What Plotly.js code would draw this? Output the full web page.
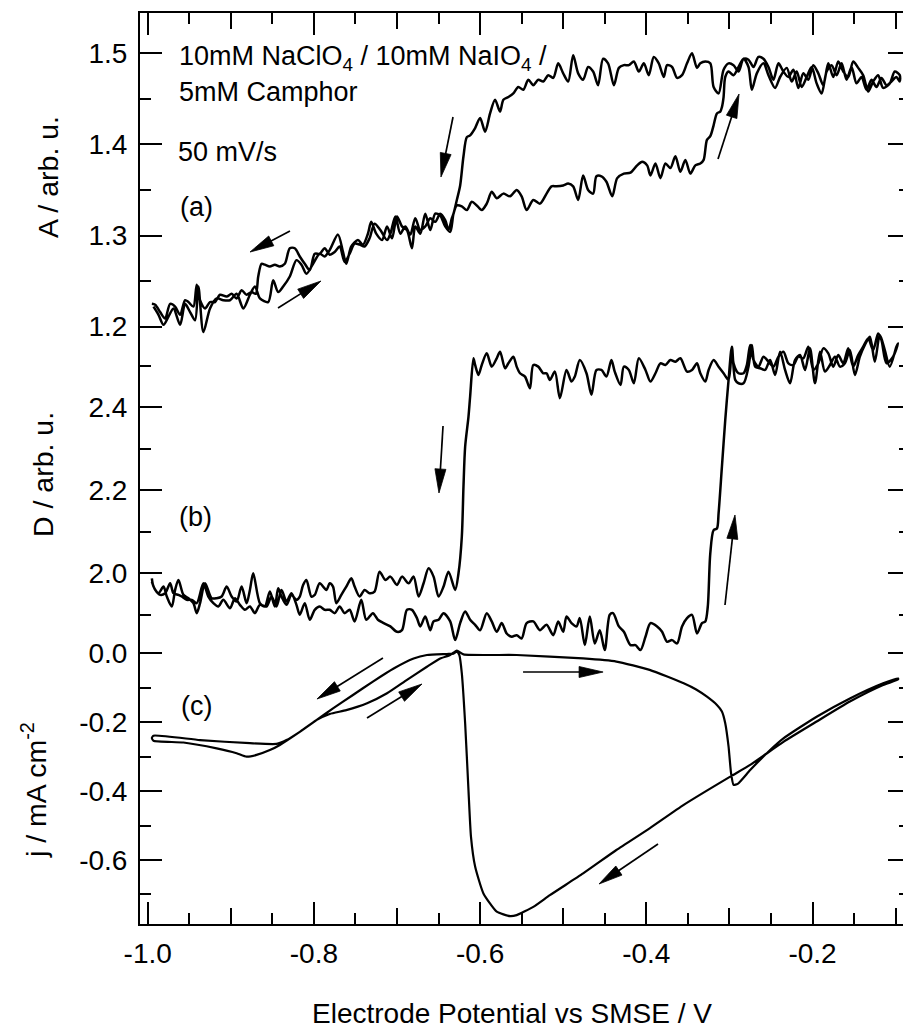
<!DOCTYPE html>
<html>
<head>
<meta charset="utf-8">
<script src="https://cdn.plot.ly/plotly-3.0.1.min.js"></script>
<style>
html, body { margin: 0; padding: 0; overflow: hidden; background: #fff; }
</style>
</head>
<body>
<div id="chart" style="width:920px;height:1034px"></div>
<script>
// (a) absorbance A, forward scan (negative -> positive)
const potA_fwd = [-0.993,-0.987,-0.981,-0.975,-0.969,-0.961,-0.955,-0.949,-0.943,-0.939,-0.933,-0.925,-0.917,-0.909,-0.901,-0.893,-0.885,-0.877,-0.871,-0.865,-0.855,-0.849,-0.843,-0.837,-0.829,-0.821,-0.815,-0.809,-0.801,-0.793,-0.787,-0.781,-0.771,-0.765,-0.761,-0.755,-0.747,-0.741,-0.735,-0.731,-0.725,-0.718,-0.712,-0.706,-0.700,-0.694,-0.688,-0.682,-0.678,-0.672,-0.666,-0.660,-0.654,-0.648,-0.642,-0.636,-0.632,-0.628,-0.622,-0.616,-0.610,-0.604,-0.598,-0.592,-0.586,-0.580,-0.572,-0.564,-0.556,-0.550,-0.544,-0.536,-0.528,-0.520,
  -0.514,-0.508,-0.500,-0.494,-0.488,-0.482,-0.476,-0.470,-0.464,-0.460,-0.454,-0.448,-0.441,-0.435,-0.427,-0.419,-0.411,-0.405,-0.399,-0.395,-0.389,-0.383,-0.377,-0.371,-0.365,-0.359,-0.353,-0.347,-0.341,-0.335,-0.331,-0.327,-0.323,-0.319,-0.315,-0.311,-0.309,-0.307,-0.305,-0.301,-0.295,
  -0.289,-0.283,-0.277,-0.273,-0.267,-0.259,-0.253,-0.245,-0.239,-0.231,-0.225,-0.219,-0.213,-0.207,-0.201,-0.195,-0.189,-0.183,-0.177,-0.171,-0.165,-0.159,-0.153,-0.147,-0.141,-0.135,-0.129,-0.123,-0.117,-0.111,-0.105,-0.099,-0.095];
const absA_fwd = [1.222,1.213,1.202,1.211,1.220,1.202,1.225,1.216,1.207,1.244,1.194,1.220,1.231,1.229,1.229,1.236,1.220,1.235,1.244,1.231,1.227,1.251,1.238,1.244,1.255,1.273,1.268,1.258,1.269,1.280,1.277,1.284,1.301,1.282,1.269,1.288,1.295,1.290,1.302,1.315,1.302,1.295,1.310,1.297,1.321,1.310,1.306,1.286,1.310,1.302,1.324,1.306,1.324,1.322,1.310,1.304,1.324,1.333,1.332,1.328,1.337,1.333,1.328,1.335,1.348,1.341,1.346,1.343,1.350,1.343,1.328,1.339,1.335,1.346,
  1.354,1.354,1.355,1.357,1.354,1.339,1.366,1.350,1.346,1.365,1.365,1.359,1.343,1.363,1.368,1.369,1.377,1.381,1.377,1.366,1.379,1.363,1.379,1.374,1.387,1.370,1.383,1.368,1.377,1.379,1.383,1.405,1.409,1.421,1.434,1.436,1.441,1.452,1.474,1.480,1.476,
  1.485,1.494,1.485,1.460,1.478,1.489,1.476,1.462,1.474,1.484,1.469,1.480,1.463,1.474,1.485,1.467,1.456,1.480,1.487,1.476,1.489,1.471,1.485,1.467,1.474,1.460,1.471,1.463,1.473,1.465,1.469,1.474,1.469];

// (a) absorbance A, reverse scan (positive -> negative)
const potA_rev = [-0.095,-0.101,-0.107,-0.115,-0.121,-0.127,-0.133,-0.139,-0.145,-0.151,-0.157,-0.163,-0.169,-0.175,-0.181,-0.187,-0.193,-0.199,-0.205,-0.211,-0.217,-0.223,-0.229,-0.235,-0.241,-0.247,-0.253,-0.259,-0.265,-0.271,-0.277,-0.283,-0.289,-0.295,-0.301,-0.307,-0.313,-0.319,-0.323,-0.329,-0.335,-0.339,-0.345,-0.351,-0.357,-0.363,-0.369,-0.375,-0.379,-0.385,-0.391,-0.397,-0.403,-0.409,-0.415,-0.421,-0.427,-0.433,-0.439,-0.446,-0.452,-0.458,-0.464,-0.470,-0.476,-0.482,-0.488,-0.494,-0.500,-0.506,-0.512,-0.518,-0.524,-0.530,-0.536,-0.542,-0.548,-0.554,-0.560,-0.566,-0.572,-0.576,-0.582,-0.588,-0.594,-0.600,-0.606,-0.612,-0.616,-0.620,-0.624,-0.628,-0.632,
  -0.634,-0.638,-0.642,-0.648,-0.654,-0.660,-0.666,-0.672,-0.678,-0.684,-0.690,-0.696,-0.702,-0.708,-0.712,-0.720,-0.727,-0.733,-0.739,-0.745,-0.751,-0.757,-0.763,-0.769,-0.775,-0.781,-0.787,-0.793,-0.799,-0.805,-0.811,-0.817,-0.823,-0.829,-0.835,-0.841,-0.847,-0.853,-0.859,-0.863,-0.867,-0.870,-0.875,-0.881,-0.887,-0.893,-0.899,-0.905,-0.913,-0.919,-0.925,-0.931,-0.937,-0.941,-0.945,-0.951,-0.955,-0.961,-0.967,-0.973,-0.979,-0.985,-0.991,-0.995];
const absA_rev = [1.476,1.480,1.467,1.462,1.476,1.469,1.458,1.476,1.484,1.491,1.474,1.480,1.491,1.474,1.489,1.465,1.478,1.487,1.471,1.478,1.462,1.482,1.474,1.480,1.489,1.471,1.485,1.494,1.496,1.485,1.493,1.494,1.480,1.487,1.489,1.482,1.456,1.463,1.489,1.491,1.489,1.484,1.500,1.489,1.476,1.473,1.485,1.487,1.474,1.489,1.496,1.476,1.489,1.480,1.491,1.487,1.487,1.484,1.465,1.489,1.494,1.465,1.480,1.485,1.471,1.478,1.498,1.469,1.478,1.489,1.473,1.476,1.469,1.471,1.465,1.471,1.460,1.463,1.456,1.452,1.449,1.436,1.449,1.434,1.414,1.429,1.418,1.410,1.408,1.387,1.355,1.339,1.324,
  1.319,1.306,1.317,1.324,1.315,1.319,1.310,1.306,1.319,1.301,1.310,1.302,1.321,1.302,1.295,1.306,1.313,1.297,1.288,1.290,1.291,1.280,1.271,1.288,1.282,1.279,1.286,1.280,1.280,1.262,1.269,1.277,1.286,1.286,1.269,1.266,1.268,1.266,1.268,1.269,1.255,1.236,1.238,1.235,1.240,1.231,1.236,1.233,1.235,1.227,1.227,1.220,1.229,1.246,1.222,1.227,1.229,1.213,1.222,1.225,1.209,1.216,1.224,1.225];

// (b) D signal, forward scan
const potD_fwd = [-0.995,-0.991,-0.985,-0.979,-0.973,-0.969,-0.963,-0.959,-0.953,-0.947,-0.941,-0.933,-0.927,-0.921,-0.915,-0.909,-0.901,-0.895,-0.889,-0.883,-0.877,-0.871,-0.865,-0.857,-0.851,-0.845,-0.839,-0.833,-0.827,-0.821,-0.817,-0.811,-0.805,-0.799,-0.793,-0.787,-0.781,-0.775,-0.769,-0.763,-0.757,-0.751,-0.743,-0.737,-0.729,-0.723,-0.716,-0.708,-0.700,-0.694,-0.688,-0.682,-0.676,-0.672,-0.666,-0.660,-0.656,-0.650,-0.644,-0.636,-0.630,-0.624,-0.618,-0.612,-0.606,-0.600,-0.592,-0.586,-0.580,-0.574,-0.568,-0.562,-0.556,-0.550,-0.544,-0.536,-0.528,-0.520,
  -0.512,-0.506,-0.500,-0.496,-0.490,-0.484,-0.480,-0.474,-0.468,-0.462,-0.456,-0.450,-0.444,-0.440,-0.433,-0.427,-0.419,-0.413,-0.407,-0.401,-0.395,-0.387,-0.381,-0.375,-0.369,-0.363,-0.357,-0.351,-0.345,-0.339,-0.333,-0.329,-0.326,-0.323,-0.319,-0.315,-0.313,-0.309,-0.305,-0.301,-0.297,-0.293,-0.289,-0.283,-0.277,-0.273,-0.269,-0.263,-0.257,-0.251,-0.245,-0.239,-0.233,-0.227,-0.221,-0.215,-0.209,-0.203,-0.197,-0.191,-0.185,-0.179,-0.173,-0.167,-0.161,-0.155,-0.149,-0.143,-0.137,-0.131,-0.125,-0.119,-0.113,-0.107,-0.099];
const sigD_fwd = [1.980,1.960,1.948,1.952,1.976,1.952,1.948,1.944,1.936,1.936,1.928,1.976,1.944,1.928,1.920,1.936,1.916,1.940,1.924,1.912,1.920,1.904,1.924,1.920,1.944,1.920,1.960,1.932,1.952,1.924,1.900,1.928,1.888,1.912,1.920,1.912,1.912,1.904,1.920,1.904,1.912,1.884,1.936,1.888,1.904,1.888,1.880,1.872,1.859,1.863,1.912,1.912,1.892,1.872,1.896,1.863,1.884,1.888,1.904,1.884,1.839,1.880,1.908,1.888,1.876,1.863,1.904,1.884,1.859,1.880,1.855,1.847,1.851,1.843,1.880,1.884,1.863,1.876,
  1.851,1.884,1.859,1.896,1.880,1.872,1.892,1.827,1.896,1.831,1.863,1.815,1.900,1.904,1.872,1.859,1.827,1.827,1.815,1.847,1.880,1.872,1.859,1.835,1.839,1.831,1.872,1.892,1.900,1.855,1.880,1.884,1.920,2.048,2.104,2.108,2.145,2.257,2.369,2.466,2.546,2.466,2.458,2.458,2.498,2.550,2.498,2.494,2.490,2.514,2.478,2.534,2.490,2.458,2.514,2.526,2.490,2.542,2.458,2.534,2.486,2.502,2.522,2.498,2.506,2.538,2.478,2.522,2.550,2.570,2.510,2.574,2.538,2.498,2.546];

// (b) D signal, reverse scan
const potD_rev = [-0.097,-0.103,-0.111,-0.117,-0.121,-0.127,-0.133,-0.139,-0.145,-0.151,-0.157,-0.163,-0.169,-0.175,-0.181,-0.187,-0.193,-0.199,-0.205,-0.211,-0.217,-0.223,-0.229,-0.235,-0.241,-0.247,-0.253,-0.259,-0.265,-0.271,-0.275,-0.279,-0.283,-0.289,-0.295,-0.297,-0.301,-0.307,-0.313,-0.319,-0.325,-0.329,-0.335,-0.339,-0.345,-0.351,-0.359,-0.365,-0.371,-0.377,-0.383,-0.389,-0.395,-0.401,-0.409,-0.415,-0.421,-0.427,-0.431,-0.438,-0.442,-0.448,-0.454,-0.460,-0.466,-0.472,-0.480,-0.486,-0.490,-0.496,-0.504,-0.510,-0.516,-0.520,-0.524,-0.530,-0.536,-0.540,-0.546,-0.552,-0.556,-0.560,-0.566,-0.570,-0.576,-0.580,-0.586,-0.592,-0.598,-0.602,-0.606,-0.608,-0.612,-0.614,-0.618,-0.620,-0.622,-0.626,-0.630,
  -0.638,-0.644,-0.650,-0.656,-0.662,-0.668,-0.674,-0.680,-0.686,-0.694,-0.700,-0.708,-0.714,-0.721,-0.727,-0.733,-0.739,-0.745,-0.751,-0.755,-0.761,-0.767,-0.773,-0.777,-0.781,-0.785,-0.793,-0.799,-0.803,-0.809,-0.813,-0.817,-0.821,-0.827,-0.833,-0.839,-0.843,-0.847,-0.853,-0.859,-0.865,-0.873,-0.877,-0.881,-0.887,-0.893,-0.899,-0.905,-0.911,-0.917,-0.923,-0.931,-0.937,-0.941,-0.945,-0.951,-0.957,-0.963,-0.967,-0.971,-0.977,-0.981,-0.987,-0.993,-0.995];
const sigD_rev = [2.554,2.522,2.506,2.562,2.578,2.538,2.566,2.546,2.526,2.498,2.542,2.506,2.526,2.498,2.530,2.542,2.506,2.490,2.546,2.518,2.522,2.502,2.506,2.534,2.522,2.498,2.510,2.522,2.498,2.514,2.550,2.502,2.482,2.482,2.506,2.546,2.466,2.482,2.498,2.514,2.490,2.462,2.482,2.506,2.490,2.486,2.518,2.510,2.514,2.502,2.506,2.482,2.462,2.490,2.518,2.458,2.490,2.498,2.454,2.486,2.514,2.474,2.490,2.490,2.430,2.482,2.514,2.474,2.462,2.490,2.422,2.486,2.466,2.482,2.482,2.498,2.502,2.446,2.474,2.482,2.498,2.522,2.506,2.494,2.534,2.518,2.498,2.530,2.502,2.478,2.502,2.518,2.426,2.377,2.305,2.209,2.088,2.000,1.960,
  2.004,1.968,1.944,1.992,2.012,1.976,1.944,1.992,1.976,1.992,1.972,1.992,1.984,2.004,1.956,1.952,1.960,1.944,1.968,1.988,1.968,1.948,1.928,1.968,1.976,1.960,1.976,1.948,1.944,1.984,1.972,1.944,1.936,1.948,1.924,1.944,1.964,1.920,1.956,1.920,1.928,2.000,1.960,1.928,1.968,1.932,1.944,1.968,1.944,1.940,1.940,1.976,1.928,1.904,1.928,1.940,1.948,1.984,1.960,1.920,1.944,1.968,1.952,1.968,1.988];

// (c) current density j / mA cm^-2, forward scan
const potJ_fwd = [-0.995,-0.993,-0.957,-0.917,-0.893,-0.881,-0.869,-0.853,-0.841,-0.817,-0.797,-0.781,-0.761,-0.736,-0.712,-0.688,-0.664,-0.648,-0.636,-0.628,-0.620,-0.556,-0.476,-0.436,-0.396,-0.355,-0.340,-0.327,-0.315,-0.309,-0.305,-0.301,-0.298,-0.295,-0.290,-0.275,-0.255,-0.235,-0.195,-0.155,-0.115,-0.097];
const curJ_fwd = [-0.246,-0.254,-0.259,-0.276,-0.290,-0.300,-0.295,-0.281,-0.266,-0.228,-0.194,-0.176,-0.165,-0.145,-0.116,-0.077,-0.039,-0.015,-0.005,0.008,-0.003,-0.005,-0.015,-0.024,-0.048,-0.087,-0.105,-0.126,-0.150,-0.169,-0.203,-0.271,-0.348,-0.382,-0.379,-0.339,-0.290,-0.247,-0.184,-0.131,-0.087,-0.073];

// (c) current density, reverse scan
const potJ_rev = [-0.097,-0.115,-0.155,-0.195,-0.235,-0.275,-0.299,-0.355,-0.396,-0.436,-0.476,-0.516,-0.536,-0.556,-0.564,-0.580,-0.596,-0.606,-0.611,-0.614,-0.618,-0.622,-0.625,-0.628,-0.632,-0.640,-0.664,-0.680,-0.704,-0.729,-0.753,-0.777,-0.797,-0.817,-0.833,-0.845,-0.877,-0.937,-0.993,-0.995];
const curJ_rev = [-0.076,-0.092,-0.140,-0.198,-0.257,-0.324,-0.358,-0.440,-0.508,-0.571,-0.639,-0.702,-0.736,-0.760,-0.763,-0.750,-0.697,-0.619,-0.532,-0.397,-0.203,-0.058,-0.005,0.005,-0.001,-0.002,-0.005,-0.015,-0.044,-0.082,-0.121,-0.160,-0.194,-0.228,-0.252,-0.263,-0.261,-0.252,-0.239,-0.246];

// scan-direction arrows: tail and head in data units, with the y axis each belongs to
const arrowTailX = [-0.6326,-0.8288,-0.8432,-0.3137,-0.6446,-0.3053,-0.7169,-0.7361,-0.5483,-0.3859];
const arrowTailY = [1.4301,1.3049,1.2204,1.3840,2.3549,1.9236,-0.0136,-0.1878,-0.0543,-0.5536];
const arrowHeadX = [-0.6471,-0.8769,-0.7915,-0.2884,-0.6495,-0.2933,-0.7963,-0.6699,-0.4520,-0.4569];
const arrowHeadY = [1.3642,1.2819,1.2501,1.4553,2.1935,2.1405,-0.1327,-0.0891,-0.0543,-0.6697];
const arrowAxis  = ['y3','y3','y3','y3','y2','y2','y','y','y','y'];

// axis ticks
const xMajor = [-1.0,-0.8,-0.6,-0.4,-0.2];
const xMajorText = ['-1.0','-0.8','-0.6','-0.4','-0.2'];
const xMid = [-0.9,-0.7,-0.5,-0.3,-0.1];
const xMinor = [-0.95,-0.85,-0.75,-0.65,-0.55,-0.45,-0.35,-0.25,-0.15];
const jTicks = [0.0,-0.2,-0.4,-0.6];
const jTickText = ['0.0','-0.2','-0.4','-0.6'];
const jMinor = [-0.1,-0.3,-0.5,-0.7];
const dTicks = [2.0,2.2,2.4];
const dTickText = ['2.0','2.2','2.4'];
const dMinor = [1.9,2.1,2.3,2.5];
const aTicks = [1.2,1.3,1.4,1.5];
const aTickText = ['1.2','1.3','1.4','1.5'];
const aMinor = [1.25,1.35,1.45];

// ---- layout geometry ----
const W = 920, H = 1034;
const M = {l: 140, r: 10, t: 13, b: 110};
const plotW = W - M.l - M.r, plotH = H - M.t - M.b;
const xRange = [-1.00927, -0.08267];
const ranges = {
  y:  [-0.78578, 1.85863],   // j
  y2: [1.15494, 3.35012],    // D
  y3: [0.54435, 1.54424]     // A
};
const FONT = 'Liberation Sans, Arial, Helvetica, sans-serif';
const BLACK = '#000';
const tickFont = {family: FONT, size: 28, color: BLACK};

function yAxis(range, vals, text, minorVals, extra) {
  return Object.assign({
    range: range, tickmode: 'array', tickvals: vals, ticktext: text,
    ticks: 'inside', ticklen: 22, tickwidth: 2, tickcolor: BLACK,
    showline: true, linewidth: 2, linecolor: BLACK, mirror: 'ticks',
    showgrid: false, zeroline: false, tickfont: tickFont, ticklabelstandoff: 5,
    minor: {tickmode: 'array', tickvals: minorVals, ticks: 'inside', ticklen: 11,
            tickwidth: 2, tickcolor: BLACK, showgrid: false},
    fixedrange: true
  }, extra || {});
}

// pixel helpers used to build arrowheads of fixed on-screen size
function toPx(x, y, ax) {
  const r = ranges[ax];
  return [(x - xRange[0]) / (xRange[1] - xRange[0]) * plotW,
          (r[1] - y) / (r[1] - r[0]) * plotH];
}
function fromPx(px, py, ax) {
  const r = ranges[ax];
  return [xRange[0] + px / plotW * (xRange[1] - xRange[0]),
          r[1] - py / plotH * (r[1] - r[0])];
}

const traces = [];
const lineStyle = {color: BLACK, width: 2.5, shape: 'spline', smoothing: 0.8};

traces.push({x: potA_fwd.concat(potA_rev), y: absA_fwd.concat(absA_rev),
  xaxis: 'x', yaxis: 'y3', mode: 'lines', line: lineStyle, hoverinfo: 'skip'});
traces.push({x: potD_fwd.concat(potD_rev), y: sigD_fwd.concat(sigD_rev),
  xaxis: 'x', yaxis: 'y2', mode: 'lines', line: lineStyle, hoverinfo: 'skip'});
traces.push({x: potJ_fwd.concat(potJ_rev), y: curJ_fwd.concat(curJ_rev),
  xaxis: 'x', yaxis: 'y', mode: 'lines',
  line: {color: BLACK, width: 2.2, shape: 'spline', smoothing: 0.5}, hoverinfo: 'skip'});
// carrier for the intermediate x ticks
traces.push({x: [], y: [], xaxis: 'x2', yaxis: 'y', mode: 'lines', hoverinfo: 'skip'});

const HEAD_LEN = 24, HEAD_HALF = 5.5;
for (let i = 0; i < arrowTailX.length; i++) {
  const ax = arrowAxis[i];
  const t = toPx(arrowTailX[i], arrowTailY[i], ax);
  const h = toPx(arrowHeadX[i], arrowHeadY[i], ax);
  const dx = h[0] - t[0], dy = h[1] - t[1];
  const len = Math.hypot(dx, dy);
  const ux = dx / len, uy = dy / len;
  const bx = h[0] - ux * HEAD_LEN, by = h[1] - uy * HEAD_LEN;
  const shaftEnd = fromPx(bx + ux * 4, by + uy * 4, ax);
  const p1 = fromPx(bx - uy * HEAD_HALF, by + ux * HEAD_HALF, ax);
  const p2 = fromPx(bx + uy * HEAD_HALF, by - ux * HEAD_HALF, ax);
  traces.push({x: [arrowTailX[i], shaftEnd[0]], y: [arrowTailY[i], shaftEnd[1]],
    xaxis: 'x', yaxis: ax, mode: 'lines', line: {color: BLACK, width: 1.7}, hoverinfo: 'skip'});
  traces.push({x: [arrowHeadX[i], p1[0], p2[0], arrowHeadX[i]],
    y: [arrowHeadY[i], p1[1], p2[1], arrowHeadY[i]],
    xaxis: 'x', yaxis: ax, mode: 'lines', fill: 'toself', fillcolor: BLACK,
    line: {color: BLACK, width: 0.8}, hoverinfo: 'skip'});
}

function px2paperX(px) { return (px - M.l) / plotW; }
function px2paperY(py) { return (H - M.b - py) / plotH; }

function label(text, px, py, opts) {
  return Object.assign({
    text: text, xref: 'paper', yref: 'paper', x: px2paperX(px), y: px2paperY(py),
    xanchor: 'left', yanchor: 'middle', showarrow: false,
    font: {family: FONT, size: 27, color: BLACK}
  }, opts || {});
}
const titleFont = {family: FONT, size: 28.5, color: BLACK};

const annotations = [
  label('10mM NaClO<sub>4</sub> / 10mM NaIO<sub>4</sub> /', 177, 58),
  label('5mM Camphor', 177, 92),
  label('50 mV/s', 176, 152),
  label('(a)', 178, 207),
  label('(b)', 177, 517),
  label('(c)', 179, 706),
  label('A / arb. u.', 48, 177, {xanchor: 'center', textangle: -90, font: titleFont}),
  label('D / arb. u.', 43, 475, {xanchor: 'center', textangle: -90, font: titleFont}),
  label('j / mA cm<sup>-2</sup>', 34, 790, {xanchor: 'center', textangle: -90, font: titleFont}),
  label('Electrode Potential vs SMSE / V', 512, 1013, {xanchor: 'center', font: {family: FONT, size: 28, color: BLACK}})
];

const layout = {
  width: W, height: H,
  margin: M,
  paper_bgcolor: '#fff', plot_bgcolor: '#fff',
  showlegend: false,
  font: {family: FONT, color: BLACK},
  xaxis: {
    range: xRange, tickmode: 'array', tickvals: xMajor, ticktext: xMajorText,
    ticks: 'inside', ticklen: 22, tickwidth: 2, tickcolor: BLACK,
    showline: true, linewidth: 2, linecolor: BLACK, mirror: 'ticks',
    showgrid: false, zeroline: false, tickfont: tickFont, ticklabelstandoff: 3,
    minor: {tickmode: 'array', tickvals: xMinor, ticks: 'inside', ticklen: 11,
            tickwidth: 2, tickcolor: BLACK, showgrid: false},
    anchor: 'y', fixedrange: true
  },
  xaxis2: {
    range: xRange, overlaying: 'x', side: 'bottom', anchor: 'y',
    tickmode: 'array', tickvals: xMid, ticks: 'inside', ticklen: 16, tickwidth: 2,
    tickcolor: BLACK, showticklabels: false, showline: true, linewidth: 2,
    linecolor: BLACK, mirror: 'ticks', showgrid: false, zeroline: false, fixedrange: true
  },
  yaxis: yAxis(ranges.y, jTicks, jTickText, jMinor, {anchor: 'x', side: 'left'}),
  yaxis2: yAxis(ranges.y2, dTicks, dTickText, dMinor, {anchor: 'x', side: 'left', overlaying: 'y'}),
  yaxis3: yAxis(ranges.y3, aTicks, aTickText, aMinor, {anchor: 'x', side: 'left', overlaying: 'y'}),
  annotations: annotations
};

Plotly.newPlot('chart', traces, layout, {displayModeBar: false, staticPlot: true});
</script>
</body>
</html>
